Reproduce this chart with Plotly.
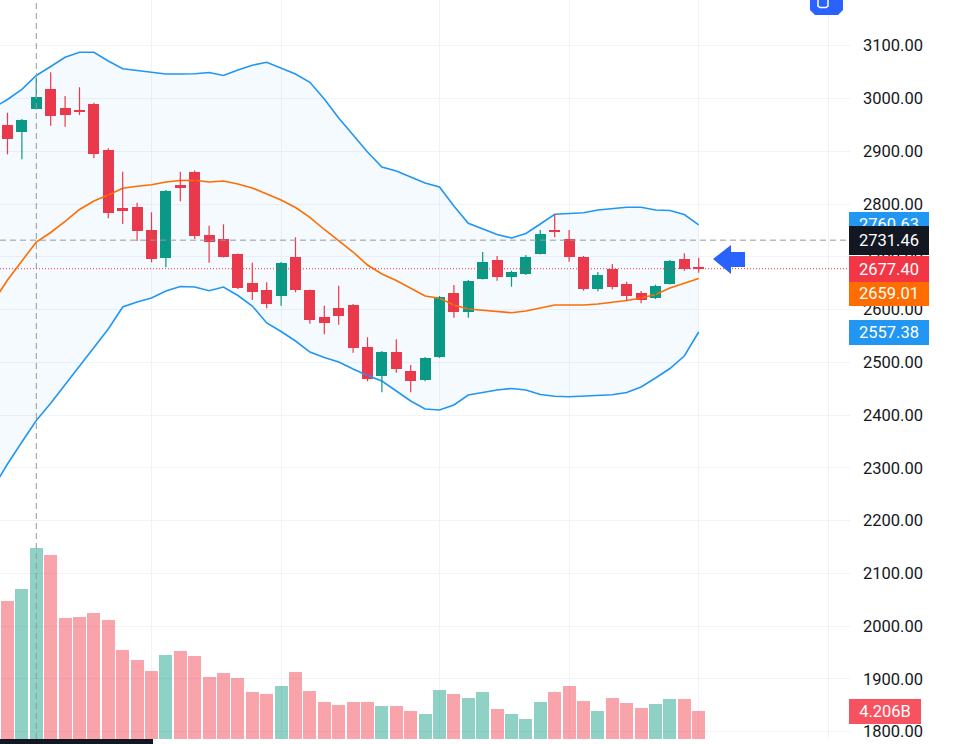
import plotly.graph_objects as go

# ---------------- data ----------------
idx = list(range(49))
opens = [2949.7, 2937.0, 2980.6, 3017.9, 2981.9, 2978.1, 2989.0, 2902.3, 2793.0, 2793.7,
         2750.2, 2698.2, 2836.0, 2861.2, 2740.7, 2733.7, 2704.7, 2649.7, 2636.5, 2625.7,
         2699.6, 2636.5, 2586.4, 2602.4, 2609.2, 2529.6, 2473.5, 2520.1, 2484.1, 2465.9,
         2509.5, 2632.0, 2596.0, 2657.9, 2693.9, 2662.2, 2666.8, 2705.3, 2750.2, 2733.7,
         2699.6, 2638.9, 2676.8, 2647.8, 2630.8, 2621.3, 2649.0, 2695.2, 2679.6]
highs = [2973.0, 2961.1, 3038.2, 3049.6, 3004.7, 3021.2, 2992.0, 2905.6, 2861.2, 2802.5,
         2784.3, 2826.5, 2861.2, 2863.5, 2758.9, 2761.5, 2706.2, 2688.8, 2651.6, 2690.1,
         2736.9, 2638.0, 2607.3, 2645.2, 2610.5, 2547.4, 2521.4, 2543.6, 2494.9, 2510.1,
         2625.7, 2646.5, 2656.0, 2709.0, 2701.5, 2673.6, 2703.4, 2750.7, 2781.0, 2750.7,
         2701.5, 2671.2, 2686.3, 2652.8, 2635.2, 2647.1, 2693.9, 2706.6, 2698.2]
lows = [2894.2, 2884.7, 2979.1, 2948.4, 2946.5, 2968.6, 2886.6, 2772.9, 2762.1, 2729.9,
        2689.5, 2680.0, 2805.1, 2733.7, 2688.8, 2698.6, 2638.9, 2618.1, 2602.4, 2607.3,
        2632.7, 2573.2, 2553.1, 2571.3, 2518.2, 2464.0, 2443.2, 2480.3, 2443.2, 2464.0,
        2508.2, 2584.5, 2584.5, 2656.9, 2654.7, 2643.3, 2665.5, 2704.3, 2736.9, 2690.7,
        2635.7, 2634.6, 2638.4, 2616.8, 2611.8, 2620.0, 2647.5, 2673.6, 2669.8]
closes = [2923.2, 2959.2, 3002.2, 2967.3, 2968.6, 2974.3, 2894.2, 2782.4, 2786.7, 2748.3,
          2696.3, 2824.6, 2830.3, 2739.4, 2728.0, 2700.2, 2640.2, 2632.7, 2610.0, 2688.8,
          2637.1, 2580.2, 2575.1, 2587.2, 2527.7, 2468.9, 2520.1, 2486.7, 2464.0, 2508.8,
          2624.3, 2596.0, 2654.7, 2690.7, 2662.2, 2670.6, 2700.2, 2743.2, 2746.4, 2699.0,
          2638.4, 2665.5, 2642.2, 2626.2, 2618.1, 2644.6, 2692.6, 2676.8, 2677.4]
volumes_b = [20.95, 22.77, 28.95, 27.89, 18.37, 18.57, 19.13, 18.06, 13.51, 11.99,
             10.37, 12.75, 13.31, 12.60, 9.46, 10.02, 9.31, 7.13, 6.79, 8.05,
             10.22, 7.33, 5.66, 5.16, 5.66, 5.66, 4.96, 4.96, 4.25, 3.84,
             7.48, 6.79, 6.22, 7.13, 4.55, 3.84, 3.08, 5.66, 7.13, 8.05,
             5.81, 4.20, 6.22, 5.46, 4.75, 5.31, 6.03, 6.03, 4.206]

bb_x = list(range(-1, 49))
bb_upper = [2981.9, 2998.0, 3017.4, 3043.5, 3060.6, 3078.0, 3087.5, 3087.5, 3071.0, 3056.4,
            3053.0, 3049.6, 3046.4, 3046.4, 3046.9, 3049.2, 3043.5, 3053.9, 3063.0, 3068.5,
            3056.8, 3046.4, 3030.6, 2999.0, 2963.0, 2930.8, 2898.5, 2870.1, 2862.5, 2851.2,
            2839.8, 2832.2, 2796.2, 2763.4, 2752.6, 2742.2, 2735.6, 2744.1, 2762.1, 2780.5,
            2782.0, 2783.5, 2788.6, 2791.5, 2793.8, 2793.8, 2788.6, 2787.7, 2780.1, 2760.63]
bb_basis = [2614.3, 2656.0, 2692.0, 2728.0, 2746.0, 2766.9, 2789.6, 2805.7, 2817.1, 2829.8,
            2833.5, 2836.6, 2841.7, 2844.5, 2844.9, 2841.7, 2843.6, 2837.9, 2830.3, 2818.9,
            2807.6, 2793.4, 2774.8, 2751.7, 2730.8, 2709.0, 2684.4, 2667.4, 2655.0, 2639.9,
            2625.7, 2621.3, 2608.6, 2601.0, 2599.1, 2596.3, 2594.0, 2597.2, 2603.5, 2608.6,
            2608.6, 2608.6, 2610.5, 2613.3, 2617.1, 2621.9, 2628.5, 2640.8, 2650.3, 2659.01]
bb_lower = [2261.8, 2307.3, 2349.0, 2389.7, 2422.3, 2458.0, 2492.0, 2528.1, 2563.1, 2604.8,
            2614.3, 2621.9, 2635.1, 2643.7, 2642.7, 2635.7, 2642.7, 2626.6, 2606.7, 2574.5,
            2558.4, 2540.4, 2519.5, 2509.1, 2500.6, 2487.3, 2475.0, 2464.6, 2445.6, 2426.7,
            2411.5, 2409.6, 2419.1, 2438.1, 2442.8, 2447.5, 2450.4, 2447.5, 2439.0, 2435.6,
            2434.8, 2435.8, 2437.1, 2438.6, 2442.8, 2453.2, 2470.3, 2488.3, 2512.0, 2557.38]

price_ticks = list(range(1800, 3200, 100))
time_grid = [10, 19, 30, 39, 48, 57]
last_close = 2677.40
crosshair_price = 2731.46
crosshair_index = 2
last_volume_label = "4.206B"

# ---------------- styling ----------------
UP = "#089981"
DOWN = "#F23645"
UP_VOL = "rgba(8,153,129,0.45)"
DOWN_VOL = "rgba(242,54,69,0.45)"
BB_BLUE = "#2196F3"
BB_ORANGE = "#FF6D00"
GRID = "#F0F3FA"
TEXT = "#131722"
FONT = "Roboto"

W, H = 960, 744
PLOT_W, PLOT_H = 850, 739


def px(x):
    return x / PLOT_W


def py(y):
    return (PLOT_H - y) / PLOT_H


fig = go.Figure()

# volume
vol_colors = [UP_VOL if c >= o else DOWN_VOL for o, c in zip(opens, closes)]
fig.add_trace(go.Bar(x=idx, y=volumes_b, width=0.9, marker=dict(color=vol_colors, line_width=0),
                     yaxis="y2", showlegend=False, hoverinfo="skip"))

# bollinger bands
fig.add_trace(go.Scatter(x=bb_x, y=bb_upper, mode="lines", line=dict(color=BB_BLUE, width=1.6),
                         showlegend=False, hoverinfo="skip"))
fig.add_trace(go.Scatter(x=bb_x, y=bb_lower, mode="lines", line=dict(color=BB_BLUE, width=1.6),
                         fill="tonexty", fillcolor="rgba(33,150,243,0.05)",
                         showlegend=False, hoverinfo="skip"))
fig.add_trace(go.Scatter(x=bb_x, y=bb_basis, mode="lines", line=dict(color=BB_ORANGE, width=1.6),
                         showlegend=False, hoverinfo="skip"))

# candles: wicks
for color, up in ((UP, True), (DOWN, False)):
    wx, wy = [], []
    for i, o, h, l, c in zip(idx, opens, highs, lows, closes):
        if (c >= o) == up:
            wx += [i, i, None]
            wy += [l, h, None]
    fig.add_trace(go.Scatter(x=wx, y=wy, mode="lines", line=dict(color=color, width=1.2),
                             showlegend=False, hoverinfo="skip"))

# candles: bodies
for color, up in ((UP, True), (DOWN, False)):
    bx, bh, bb = [], [], []
    for i, o, c in zip(idx, opens, closes):
        if (c >= o) == up:
            bx.append(i)
            bb.append(min(o, c))
            bh.append(max(abs(c - o), 1.2))
    fig.add_trace(go.Bar(x=bx, y=bh, base=bb, width=0.76, marker=dict(color=color, line_width=0),
                         showlegend=False, hoverinfo="skip"))

x_lo = (0 - 7.5) / 14.4
x_hi = (PLOT_W - 7.5) / 14.4
y_lo = 3186.58 - 1.895 * PLOT_H
y_hi = 3186.58

fig.update_layout(
    width=W, height=H,
    margin=dict(l=0, r=W - PLOT_W, t=0, b=H - PLOT_H),
    paper_bgcolor="white", plot_bgcolor="white",
    barmode="overlay", bargap=0,
    font=dict(family=FONT, size=16.5, color=TEXT),
    xaxis=dict(range=[x_lo, x_hi], tickvals=time_grid, showticklabels=False, ticks="",
               showgrid=True, gridcolor=GRID, gridwidth=1, zeroline=False, showline=False,
               automargin=False, fixedrange=True),
    yaxis=dict(range=[y_lo, y_hi], side="right", tickvals=price_ticks, tickformat=".2f",
               showgrid=True, gridcolor=GRID, gridwidth=1, zeroline=False, showline=False,
               ticks="", ticklabelstandoff=12, automargin=False,
               tickfont=dict(family=FONT, size=16.5, color=TEXT)),
    yaxis2=dict(range=[0, 112.2], overlaying="y", visible=False, showgrid=False),
    showlegend=False,
)

shapes = []
# crosshair
shapes.append(dict(type="line", xref="paper", yref="y", x0=0, x1=1, y0=crosshair_price, y1=crosshair_price,
                   line=dict(color="#9598A1", width=1, dash="6px,4px"), layer="above"))
shapes.append(dict(type="line", xref="x", yref="paper", x0=crosshair_index, x1=crosshair_index, y0=0, y1=1,
                   line=dict(color="#9598A1", width=1, dash="6px,4px"), layer="above"))
# last price line
shapes.append(dict(type="line", xref="paper", yref="y", x0=0, x1=1, y0=last_close, y1=last_close,
                   line=dict(color=DOWN, width=1, dash="1px,2px"), layer="above"))


def path(points):
    s = "M " + " L ".join(f"{px(x):.5f},{py(y):.5f}" for x, y in points) + " Z"
    return s


# blue arrow marker
shapes.append(dict(type="path", xref="paper", yref="paper",
                   path=path([(713, 259), (731, 245), (731, 252), (745, 252), (745, 267), (731, 267), (731, 274)]),
                   fillcolor="#2962FF", line=dict(width=0), layer="above"))
# top-right button
shapes.append(dict(type="path", xref="paper", yref="paper",
                   path=path([(810, -2), (843, -2), (843, 10), (838, 15), (815, 15), (810, 10)]),
                   fillcolor="#2962FF", line=dict(width=0), layer="above"))
shapes.append(dict(type="path", xref="paper", yref="paper",
                   path="M " + " L ".join(f"{px(x):.5f},{py(y):.5f}" for x, y in
                                         [(818, 0), (818, 6), (820, 7.5), (826, 7.5), (828, 6), (828, 0)]),
                   line=dict(color="white", width=1.5), layer="above"))
# crosshair time label strip at bottom
shapes.append(dict(type="rect", xref="paper", yref="paper", x0=0, x1=px(153), y0=py(744), y1=py(739),
                   fillcolor=TEXT, line=dict(width=0), layer="above"))
fig.update_layout(shapes=shapes)

# price-scale labels (drawn in order, later on top)
labels = [
    (f"{bb_upper[-1]:.2f}", "y", bb_upper[-1], 25, 80, BB_BLUE),
    (f"{bb_lower[-1]:.2f}", "y", bb_lower[-1], 25, 80, BB_BLUE),
    (f"{bb_basis[-1]:.2f}", "paper", py(293.8), 24.5, 80, BB_ORANGE),
    (f"{last_close:.2f}", "paper", py(268.7), 26, 80, DOWN),
    (f"{crosshair_price:.2f}", "y", crosshair_price, 28.5, 80, TEXT),
    (last_volume_label, "y2", volumes_b[-1], 25, 72, "#F7525F"),
]
for text, yref, yv, hgt, wid, col in labels:
    fig.add_annotation(text=text, xref="paper", x=px(849), xanchor="left", yref=yref, y=yv,
                       yanchor="middle", showarrow=False, width=wid, height=hgt, bgcolor=col,
                       borderpad=0, borderwidth=0, align="center",
                       font=dict(family=FONT, size=16.5, color="white"))

fig.write_html("out.html", config={"displayModeBar": False},
               post_script="document.body.style.margin='0';document.body.style.overflow='hidden';")
